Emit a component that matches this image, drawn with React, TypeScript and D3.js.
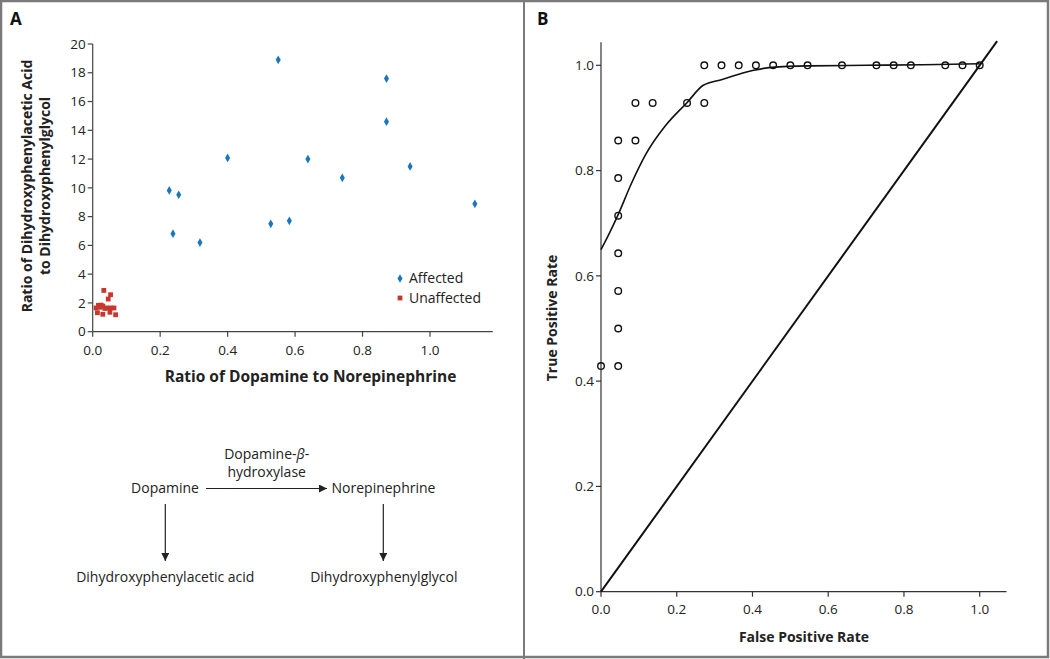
import React from "react";
import * as d3 from "d3";

// Panel A data
const affectedX = [0.55, 0.871, 0.871, 0.40, 0.638, 0.941, 0.74, 0.227, 0.255, 1.133, 0.583, 0.528, 0.238, 0.318];
const affectedY = [18.9, 17.6, 14.6, 12.08, 12.0, 11.49, 10.7, 9.82, 9.52, 8.89, 7.71, 7.5, 6.81, 6.2];
const unaffectedX = [0.033, 0.053, 0.046, 0.017, 0.030, 0.010, 0.041, 0.053, 0.063, 0.014, 0.030, 0.051, 0.068, 0.025, 0.036, 0.022];
const unaffectedY = [2.87, 2.57, 2.27, 1.83, 1.78, 1.65, 1.65, 1.65, 1.65, 1.32, 1.21, 1.35, 1.18, 1.85, 1.62, 1.70];
const aXTicks = [0, 0.2, 0.4, 0.6, 0.8, 1.0];
const aYTicks = [0, 2, 4, 6, 8, 10, 12, 14, 16, 18, 20];

// Panel B data (ROC points: FPR, TPR)
const rocFPR = [
  0, 1 / 22, 1 / 22, 1 / 22, 1 / 22, 1 / 22, 1 / 22, 1 / 22, 2 / 22, 2 / 22, 3 / 22, 5 / 22, 6 / 22,
  6 / 22, 7 / 22, 8 / 22, 9 / 22, 10 / 22, 11 / 22, 12 / 22, 14 / 22, 16 / 22, 17 / 22, 18 / 22, 20 / 22, 21 / 22, 22 / 22,
];
const rocTPR = [
  6 / 14, 6 / 14, 7 / 14, 8 / 14, 9 / 14, 10 / 14, 11 / 14, 12 / 14, 12 / 14, 13 / 14, 13 / 14, 13 / 14, 13 / 14,
  1, 1, 1, 1, 1, 1, 1, 1, 1, 1, 1, 1, 1, 1,
];
const fitFPR = [0, 0.02, 0.045, 0.08, 0.12, 0.17, 0.227, 0.27, 0.32, 0.4, 0.45, 0.55, 0.7, 0.85, 1.0];
const fitTPR = [0.65, 0.678, 0.716, 0.775, 0.833, 0.885, 0.929, 0.962, 0.973, 0.99, 0.996, 0.999, 1.0, 1.001, 1.003];
const bTicks = [0, 0.2, 0.4, 0.6, 0.8, 1.0];

const FONT = "'Open Sans', 'Noto Sans', sans-serif";

export default function App() {
  // Panel A scales
  const ax = d3.scaleLinear().domain([0, 1]).range([92.7, 430]);
  const ay = d3.scaleLinear().domain([0, 20]).range([331.7, 44]);
  const axEnd = ax(1.186);

  // Panel B scales
  const bx = d3.scaleLinear().domain([0, 1]).range([601, 979.7]);
  const by = d3.scaleLinear().domain([0, 1]).range([591.7, 65.3]);
  const bxEnd = bx(1.071);
  const byTop = by(1.044);

  const fitLine = d3
    .line<number>()
    .x((_, i) => bx(fitFPR[i]))
    .y((_, i) => by(fitTPR[i]))
    .curve(d3.curveMonotoneX)(fitFPR);

  const diamond = d3.symbol(d3.symbolDiamond, 22)() as string;
  const tickFont = { fontFamily: FONT, fontSize: 13.5, fill: "#222" };
  const labelFont = { fontFamily: FONT, fontSize: 14, fontWeight: 700, fill: "#222" };
  const labelFontA = { fontFamily: FONT, fontSize: 15.5, fontWeight: 700, fill: "#222" };
  const diagFont = { fontFamily: FONT, fontSize: 14, fill: "#222" };

  return (
    <svg width={1050} height={659} style={{ position: "absolute", left: 0, top: 0, background: "#fff" }}>
      <defs>
        <marker id="arr" viewBox="0 0 10 10" refX="10" refY="5" markerWidth="10" markerHeight="8" markerUnits="userSpaceOnUse" orient="auto">
          <path d="M0,0 L10,5 L0,10 z" fill="#222" />
        </marker>
      </defs>
      {/* Frame */}
      <rect x={1} y={1} width={1047} height={656} fill="none" stroke="#7a7a7a" strokeWidth={2.5} />
      <line x1={524} x2={524} y1={0} y2={659} stroke="#7a7a7a" strokeWidth={2} />

      {/* Panel labels */}
      <text x={10} y={25} style={{ fontFamily: FONT, fontSize: 17, fontWeight: 700 }} fill="#111">A</text>
      <text x={537} y={25} style={{ fontFamily: FONT, fontSize: 17, fontWeight: 700 }} fill="#111">B</text>

      {/* Panel A axes */}
      <g stroke="#444" strokeWidth={1.2}>
        <line x1={ax(0)} x2={ax(0)} y1={ay(20)} y2={ay(0)} />
        <line x1={ax(0)} x2={axEnd} y1={ay(0)} y2={ay(0)} />
        {aYTicks.map((t) => (
          <line key={"ayt" + t} x1={ax(0) - 5} x2={ax(0)} y1={ay(t)} y2={ay(t)} />
        ))}
        {aXTicks.map((t) => (
          <line key={"axt" + t} x1={ax(t)} x2={ax(t)} y1={ay(0)} y2={ay(0) + 5} />
        ))}
      </g>
      {aYTicks.map((t) => (
        <text key={"ayl" + t} x={ax(0) - 7} y={ay(t)} dy="0.35em" textAnchor="end" style={tickFont}>
          {t}
        </text>
      ))}
      {aXTicks.map((t) => (
        <text key={"axl" + t} x={ax(t)} y={350} dy="0.35em" textAnchor="middle" style={tickFont}>
          {t.toFixed(1)}
        </text>
      ))}
      <text x={310.5} y={377} dy="0.35em" textAnchor="middle" style={labelFontA}>
        Ratio of Dopamine to Norepinephrine
      </text>
      <text transform="translate(27,186) rotate(-90)" textAnchor="middle" dy="0.35em" style={labelFont}>
        Ratio of Dihydroxyphenylacetic Acid
      </text>
      <text transform="translate(45,186) rotate(-90)" textAnchor="middle" dy="0.35em" style={labelFont}>
        to Dihydroxyphenylglycol
      </text>

      {/* Panel A points */}
      {unaffectedX.map((v, i) => (
        <rect key={"u" + i} x={ax(v) - 2.4} y={ay(unaffectedY[i]) - 2.4} width={4.8} height={4.8} fill="#c8372d" />
      ))}
      {affectedX.map((v, i) => (
        <path key={"a" + i} d={diamond} transform={`translate(${ax(v)},${ay(affectedY[i])})`} fill="#1b77bd" />
      ))}

      {/* Legend */}
      <path d={diamond} transform="translate(400,278.5)" fill="#1b77bd" />
      <text x={409} y={278.5} dy="0.35em" style={diagFont}>Affected</text>
      <rect x={397.6} y={295.6} width={4.8} height={4.8} fill="#c8372d" />
      <text x={409} y={298} dy="0.35em" style={diagFont}>Unaffected</text>

      {/* Pathway diagram */}
      <text x={266.7} y={454} dy="0.35em" textAnchor="middle" style={diagFont}>
        Dopamine-<tspan fontStyle="italic">β</tspan>-
      </text>
      <text x={266.7} y={472} dy="0.35em" textAnchor="middle" style={diagFont}>hydroxylase</text>
      <text x={165} y={488.5} dy="0.35em" textAnchor="middle" style={diagFont}>Dopamine</text>
      <text x={383.5} y={488.5} dy="0.35em" textAnchor="middle" style={diagFont}>Norepinephrine</text>
      <text x={165.3} y={577} dy="0.35em" textAnchor="middle" style={diagFont}>Dihydroxyphenylacetic acid</text>
      <text x={383.8} y={577} dy="0.35em" textAnchor="middle" style={diagFont}>Dihydroxyphenylglycol</text>
      <line x1={206} x2={327} y1={488.5} y2={488.5} stroke="#222" strokeWidth={1.2} markerEnd="url(#arr)" />
      <line x1={165.3} x2={165.3} y1={504} y2={561} stroke="#222" strokeWidth={1.2} markerEnd="url(#arr)" />
      <line x1={383.3} x2={383.3} y1={504} y2={561} stroke="#222" strokeWidth={1.2} markerEnd="url(#arr)" />

      {/* Panel B axes */}
      <g stroke="#333" strokeWidth={1.2}>
        <line x1={bx(0)} x2={bx(0)} y1={byTop} y2={by(0)} />
        <line x1={bx(0)} x2={bxEnd} y1={by(0)} y2={by(0)} />
        {bTicks.map((t) => (
          <line key={"byt" + t} x1={bx(0) - 5} x2={bx(0)} y1={by(t)} y2={by(t)} />
        ))}
        {bTicks.map((t) => (
          <line key={"bxt" + t} x1={bx(t)} x2={bx(t)} y1={by(0)} y2={by(0) + 5} />
        ))}
      </g>
      {bTicks.map((t) => (
        <text key={"byl" + t} x={bx(0) - 7} y={by(t)} dy="0.35em" textAnchor="end" style={tickFont}>
          {t.toFixed(1)}
        </text>
      ))}
      {bTicks.map((t) => (
        <text key={"bxl" + t} x={bx(t)} y={609} dy="0.35em" textAnchor="middle" style={tickFont}>
          {t.toFixed(1)}
        </text>
      ))}
      <text x={804} y={637} dy="0.35em" textAnchor="middle" style={labelFont}>False Positive Rate</text>
      <text transform="translate(552,318) rotate(-90)" textAnchor="middle" dy="0.35em" style={labelFont}>
        True Positive Rate
      </text>

      {/* Diagonal */}
      <line x1={bx(0)} y1={by(0)} x2={bx(1.046)} y2={by(1.046)} stroke="#111" strokeWidth={2} />
      {/* Fitted curve */}
      <path d={fitLine || ""} fill="none" stroke="#111" strokeWidth={1.6} />
      {/* ROC points */}
      {rocFPR.map((v, i) => (
        <circle key={"r" + i} cx={bx(v)} cy={by(rocTPR[i])} r={3.3} fill="none" stroke="#111" strokeWidth={1.4} />
      ))}
    </svg>
  );
}
